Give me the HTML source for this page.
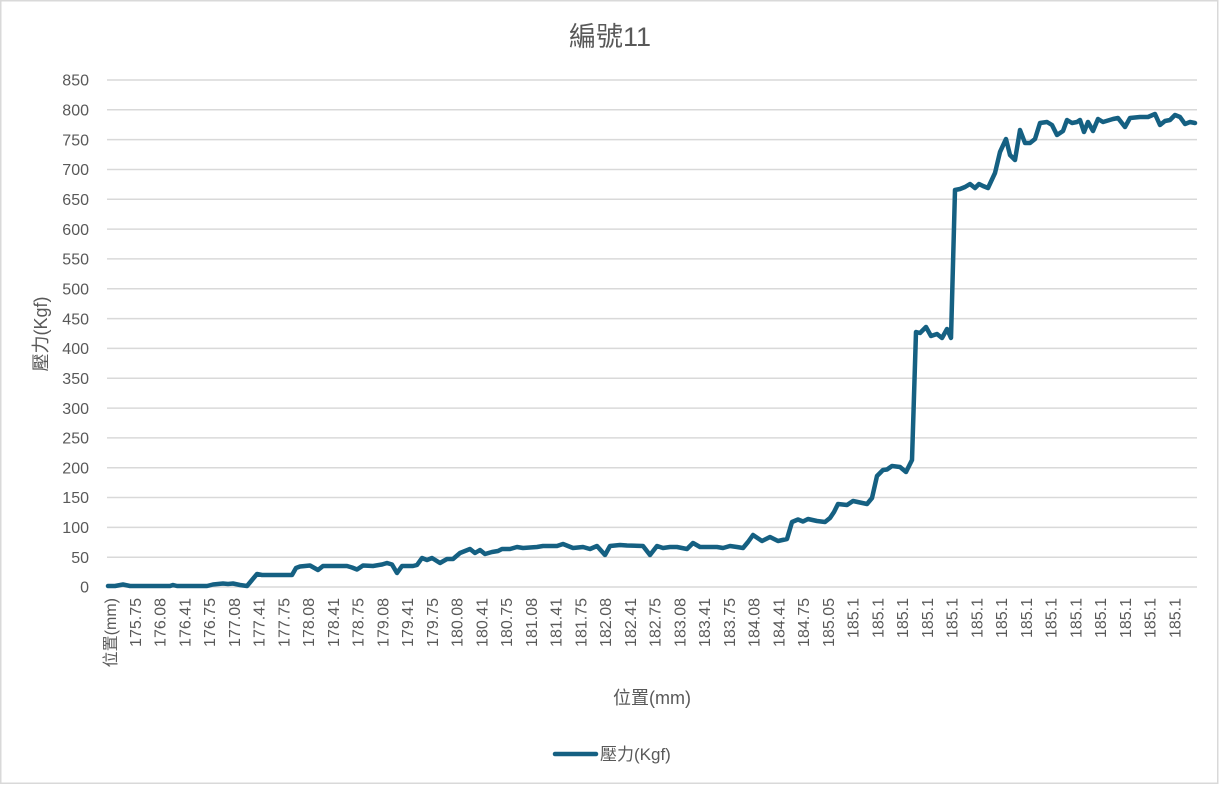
<!DOCTYPE html>
<html>
<head>
<meta charset="utf-8">
<style>
html,body{margin:0;padding:0;background:#fff;}
svg{display:block;}
text{font-family:"Liberation Sans","Noto Sans CJK TC",sans-serif;fill:#595959;}
</style>
</head>
<body>
<svg width="1220" height="785" viewBox="0 0 1220 785" xmlns="http://www.w3.org/2000/svg">
<rect x="0.75" y="0.75" width="1217" height="782.5" fill="#fff" stroke="#d9d9d9" stroke-width="1.5"/>
<text x="610" y="46" font-size="27" text-anchor="middle">編號11</text>
<g stroke="#d9d9d9" stroke-width="1.5">
<line x1="107" y1="80" x2="1197" y2="80"/>
<line x1="107" y1="109.8" x2="1197" y2="109.8"/>
<line x1="107" y1="139.6" x2="1197" y2="139.6"/>
<line x1="107" y1="169.5" x2="1197" y2="169.5"/>
<line x1="107" y1="199.3" x2="1197" y2="199.3"/>
<line x1="107" y1="229.1" x2="1197" y2="229.1"/>
<line x1="107" y1="258.9" x2="1197" y2="258.9"/>
<line x1="107" y1="288.8" x2="1197" y2="288.8"/>
<line x1="107" y1="318.6" x2="1197" y2="318.6"/>
<line x1="107" y1="348.4" x2="1197" y2="348.4"/>
<line x1="107" y1="378.2" x2="1197" y2="378.2"/>
<line x1="107" y1="408.1" x2="1197" y2="408.1"/>
<line x1="107" y1="437.9" x2="1197" y2="437.9"/>
<line x1="107" y1="467.7" x2="1197" y2="467.7"/>
<line x1="107" y1="497.5" x2="1197" y2="497.5"/>
<line x1="107" y1="527.4" x2="1197" y2="527.4"/>
<line x1="107" y1="557.2" x2="1197" y2="557.2"/>
<line x1="107" y1="587" x2="1197" y2="587"/>
</g>
<g font-size="16" text-anchor="end">
<text x="89" y="85.7">850</text>
<text x="89" y="115.5">800</text>
<text x="89" y="145.3">750</text>
<text x="89" y="175.2">700</text>
<text x="89" y="205">650</text>
<text x="89" y="234.8">600</text>
<text x="89" y="264.6">550</text>
<text x="89" y="294.5">500</text>
<text x="89" y="324.3">450</text>
<text x="89" y="354.1">400</text>
<text x="89" y="383.9">350</text>
<text x="89" y="413.8">300</text>
<text x="89" y="443.6">250</text>
<text x="89" y="473.4">200</text>
<text x="89" y="503.2">150</text>
<text x="89" y="533.1">100</text>
<text x="89" y="562.9">50</text>
<text x="89" y="592.7">0</text>
</g>
<g font-size="16" text-anchor="end">
<text transform="translate(116,598) rotate(-90)">位置(mm)</text>
<text transform="translate(140.75,598) rotate(-90)">175.75</text>
<text transform="translate(165.5,598) rotate(-90)">176.08</text>
<text transform="translate(190.25,598) rotate(-90)">176.41</text>
<text transform="translate(215,598) rotate(-90)">176.75</text>
<text transform="translate(239.75,598) rotate(-90)">177.08</text>
<text transform="translate(264.5,598) rotate(-90)">177.41</text>
<text transform="translate(289.25,598) rotate(-90)">177.75</text>
<text transform="translate(314,598) rotate(-90)">178.08</text>
<text transform="translate(338.75,598) rotate(-90)">178.41</text>
<text transform="translate(363.5,598) rotate(-90)">178.75</text>
<text transform="translate(388.25,598) rotate(-90)">179.08</text>
<text transform="translate(413,598) rotate(-90)">179.41</text>
<text transform="translate(437.75,598) rotate(-90)">179.75</text>
<text transform="translate(462.5,598) rotate(-90)">180.08</text>
<text transform="translate(487.25,598) rotate(-90)">180.41</text>
<text transform="translate(512,598) rotate(-90)">180.75</text>
<text transform="translate(536.75,598) rotate(-90)">181.08</text>
<text transform="translate(561.5,598) rotate(-90)">181.41</text>
<text transform="translate(586.25,598) rotate(-90)">181.75</text>
<text transform="translate(611,598) rotate(-90)">182.08</text>
<text transform="translate(635.75,598) rotate(-90)">182.41</text>
<text transform="translate(660.5,598) rotate(-90)">182.75</text>
<text transform="translate(685.25,598) rotate(-90)">183.08</text>
<text transform="translate(710,598) rotate(-90)">183.41</text>
<text transform="translate(734.75,598) rotate(-90)">183.75</text>
<text transform="translate(759.5,598) rotate(-90)">184.08</text>
<text transform="translate(784.25,598) rotate(-90)">184.41</text>
<text transform="translate(809,598) rotate(-90)">184.75</text>
<text transform="translate(833.75,598) rotate(-90)">185.05</text>
<text transform="translate(858.5,598) rotate(-90)">185.1</text>
<text transform="translate(883.25,598) rotate(-90)">185.1</text>
<text transform="translate(908,598) rotate(-90)">185.1</text>
<text transform="translate(932.75,598) rotate(-90)">185.1</text>
<text transform="translate(957.5,598) rotate(-90)">185.1</text>
<text transform="translate(982.25,598) rotate(-90)">185.1</text>
<text transform="translate(1007,598) rotate(-90)">185.1</text>
<text transform="translate(1031.75,598) rotate(-90)">185.1</text>
<text transform="translate(1056.5,598) rotate(-90)">185.1</text>
<text transform="translate(1081.25,598) rotate(-90)">185.1</text>
<text transform="translate(1106,598) rotate(-90)">185.1</text>
<text transform="translate(1130.75,598) rotate(-90)">185.1</text>
<text transform="translate(1155.5,598) rotate(-90)">185.1</text>
<text transform="translate(1180.25,598) rotate(-90)">185.1</text>
</g>
<polyline fill="none" stroke="#156082" stroke-width="4.5" stroke-linejoin="round" stroke-linecap="round" points="
108,586 115,586 123,584.5 130,586 170,586 173,585 177,586 207,586 213,584.5 218,584 223,583.5 228,584 233,583.5 240,585 247,586
252,580 257,574 262,575 267,575 292,575 296,568 300,566.5 310,565.5 318,570 323,566 347,566 352,567.5 357,569.5 363,565.5 373,566
382,564.5 387,563 392,564.5 397,573 402,566 413,566 417,565 422,558 427,560 432,558 440,563 447,559 453,559 460,553 470,549
475,553 480,550 485,554 492,552 498,551 502,549 510,549 517,547 523,548 537,547 543,546 557,546 563,544 573,548 583,547 590,549
597,546 605,555 610,546 620,545 627,545.5 643,546 650,555 657,546 663,548 670,547 677,547 687,549 693,543 700,547 717,547 723,548
730,546 737,547 743,548 748,542 753,535 762,541 770,537 778,541 787,539 792,522 798,519.5 803,521.5 808,519 817,521 825,522 830,518
834,512 838,504 847,505 853,501 867,504 872,498 877,476 883,470 887,469.5 892,466 900,467 906,472 912,460
916,332 920,333 926,327 931,336 937,334 942,338 947,329 951,338
955,190 960,189 965,187 970,184 975,188 979,184 983,186 988,188 995,173 1000,152 1006,139 1010,155 1015,160 1020,130 1025,143
1030,143 1035,139 1040,123 1047,122 1052,125 1057,135 1063,131 1067,120 1072,123 1077,122 1080,120 1084,132 1088,122 1093,131
1098,119 1103,122 1113,119 1118,118 1125,127 1130,118 1140,117 1148,117 1155,114 1160,125 1165,121 1170,120 1175,115 1180,117
1185,124 1190,122 1195,123"/>
<text x="652" y="704" font-size="18" text-anchor="middle">位置(mm)</text>
<text transform="translate(47,334) rotate(-90)" font-size="18" text-anchor="middle">壓力(Kgf)</text>
<line x1="555" y1="754" x2="596" y2="754" stroke="#156082" stroke-width="4.5" stroke-linecap="round"/>
<text x="600" y="760" font-size="17">壓力(Kgf)</text>
</svg>
</body>
</html>
